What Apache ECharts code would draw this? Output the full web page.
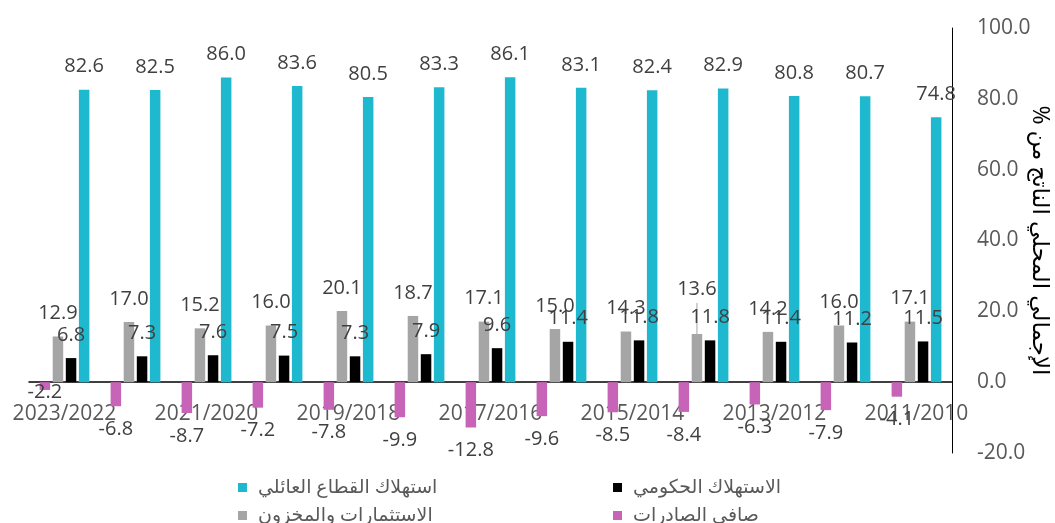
<!DOCTYPE html>
<html>
<head>
<meta charset="utf-8">
<script src="https://cdn.jsdelivr.net/npm/echarts@6/dist/echarts.min.js"></script>
<style>
    html, body {margin: 0; padding: 0; background: #fff;}
    #chart {width: 1055px; height: 523px;}
</style>
</head>
<body>
<div id="chart"></div>
<script>
let years = ['2023/2022', '2022/2021', '2021/2020', '2020/2019', '2019/2018', '2018/2017', '2017/2016',
    '2016/2015', '2015/2014', '2014/2013', '2013/2012', '2012/2011', '2011/2010'];
let household = [82.6, 82.5, 86.0, 83.6, 80.5, 83.3, 86.1, 83.1, 82.4, 82.9, 80.8, 80.7, 74.8];
let government = [6.8, 7.3, 7.6, 7.5, 7.3, 7.9, 9.6, 11.4, 11.8, 11.8, 11.4, 11.2, 11.5];
let investment = [12.9, 17.0, 15.2, 16.0, 20.1, 18.7, 17.1, 15.0, 14.3, 13.6, 14.2, 16.0, 17.1];
let netExports = [-2.2, -6.8, -8.7, -7.2, -7.8, -9.9, -12.8, -9.6, -8.5, -8.4, -6.3, -7.9, -4.1];
let seriesNames = ['استهلاك القطاع العائلي', 'الاستهلاك الحكومي', 'الاستثمارات والمخزون', 'صافي الصادرات'];
let axisTitleWords = ['%', 'من', 'الناتج', 'المحلي', 'الإجمالي'];
let yMin = -20, yMax = 100, yStep = 20;

let font = "'Open Sans', 'DejaVu Sans', sans-serif";
let barW = 10.5, barGapPx = 2.6;
let gridTop = 28, gridBottom = 70, chartH = 523;
let myChart = echarts.init(document.getElementById('chart'));

function barLabel(pos) {
    return {
        show: true,
        position: pos,
        distance: 13,
        color: '#404040',
        fontSize: 20,
        fontFamily: font,
        formatter: function (p) { return p.value.toFixed(1); }
    };
}

// -2.2 sits almost on its bar, 13.6 is lifted with a leader line
let netData = netExports.map(function (v, i) {
    return i === 0 ? {value: v, label: {distance: -8}} : v;
});
let liftedIdx = 9, liftPx = 22;

function legendItem(name, left, top) {
    return {
        data: [name], left: left, top: top,
        icon: 'rect', itemWidth: 9, itemHeight: 9,
        textStyle: {color: '#595959', fontSize: 19, fontFamily: font, padding: [0, 0, 0, 6]}
    };
}

// x axis sits on the zero line
let plotH = chartH - gridTop - gridBottom;
let zeroOffset = -plotH * (0 - yMin) / (yMax - yMin);

let option = {
    animation: false,
    textStyle: {fontFamily: font},
    grid: {left: 29, right: 103, top: gridTop, bottom: gridBottom, containLabel: false, outerBoundsMode: 'none'},
    legend: [
        legendItem(seriesNames[0], 233, 473),
        legendItem(seriesNames[2], 233, 501),
        legendItem(seriesNames[1], 608, 473),
        legendItem(seriesNames[3], 608, 501)
    ],
    xAxis: {
        type: 'category',
        data: years,
        position: 'bottom',
        offset: zeroOffset,
        axisLine: {onZero: false, lineStyle: {color: '#000', width: 1.5}},
        axisTick: {show: false},
        axisLabel: {interval: 1, margin: 21, color: '#595959', fontSize: 21, fontFamily: font}
    },
    yAxis: {
        type: 'value',
        position: 'right',
        min: yMin, max: yMax, interval: yStep,
        name: axisTitleWords.join(' \u200e'),
        nameLocation: 'middle',
        nameRotate: -90,
        nameGap: 76,
        nameMoveOverlap: false,
        nameTextStyle: {color: '#000', fontSize: 23, fontFamily: font},
        axisLine: {show: true, lineStyle: {color: '#000', width: 1}},
        axisTick: {show: false},
        splitLine: {show: false},
        axisLabel: {
            margin: 25, color: '#595959', fontSize: 21, fontFamily: font,
            formatter: function (v) { return v.toFixed(1); }
        }
    },
    series: [
        {
            name: seriesNames[3], type: 'bar', data: netData,
            barWidth: barW, barGap: (barGapPx / barW * 100) + '%',
            itemStyle: {color: '#c864b8'},
            label: barLabel('bottom')
        },
        {
            name: seriesNames[2], type: 'bar', data: investment,
            barWidth: barW, barGap: (barGapPx / barW * 100) + '%',
            itemStyle: {color: '#a5a5a5'},
            label: barLabel('top'),
            labelLayout: function (p) {
                return p.dataIndex === liftedIdx ? {dy: -liftPx} : {};
            }
        },
        {
            name: seriesNames[1], type: 'bar', data: government,
            barWidth: barW, barGap: (barGapPx / barW * 100) + '%',
            itemStyle: {color: '#000000'},
            label: barLabel('top')
        },
        {
            name: seriesNames[0], type: 'bar', data: household,
            barWidth: barW, barGap: (barGapPx / barW * 100) + '%',
            itemStyle: {color: '#1fb9cf'},
            label: barLabel('top')
        },
        {
            // leader line of the lifted 13.6 label
            type: 'custom',
            silent: true,
            data: [[liftedIdx, investment[liftedIdx]]],
            renderItem: function (params, api) {
                let p = api.coord([api.value(0), api.value(1)]);
                let dx = -(barW + barGapPx) / 2;
                return {
                    type: 'line',
                    shape: {x1: p[0] + dx, y1: p[1], x2: p[0] + dx, y2: p[1] - 31},
                    style: {stroke: '#a5a5a5', lineWidth: 1}
                };
            }
        }
    ]
};
myChart.setOption(option);
</script>
</body>
</html>
